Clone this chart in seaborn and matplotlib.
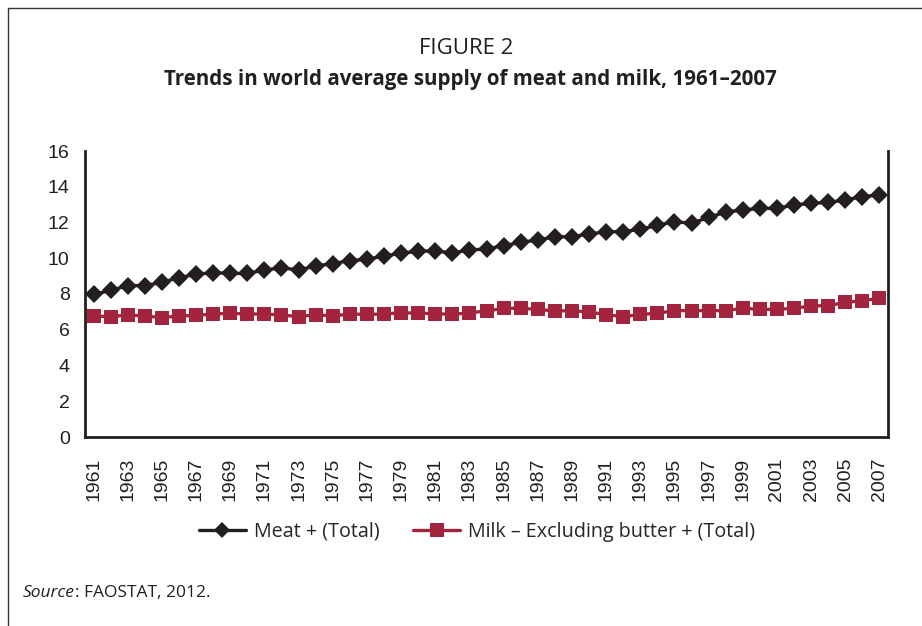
import numpy as np
import pandas as pd
import matplotlib
matplotlib.use("Agg")
import matplotlib.pyplot as plt
from matplotlib.lines import Line2D
import seaborn as sns

years = list(range(1961, 2008))
meat = [7.98, 8.20, 8.47, 8.47, 8.65, 8.92, 9.10, 9.20, 9.15, 9.15,
        9.34, 9.47, 9.34, 9.57, 9.70, 9.87, 9.94, 10.13, 10.27, 10.40,
        10.40, 10.30, 10.46, 10.52, 10.70, 10.89, 11.02, 11.20, 11.20, 11.36,
        11.48, 11.49, 11.62, 11.84, 12.05, 11.95, 12.29, 12.58, 12.70, 12.79,
        12.79, 12.98, 13.07, 13.12, 13.26, 13.45, 13.54]
milk = [6.77, 6.73, 6.83, 6.77, 6.68, 6.77, 6.80, 6.88, 6.92, 6.88,
        6.88, 6.83, 6.73, 6.85, 6.77, 6.88, 6.86, 6.88, 6.95, 6.93,
        6.90, 6.86, 6.95, 7.05, 7.20, 7.20, 7.14, 7.05, 7.07, 6.99,
        6.85, 6.73, 6.86, 6.92, 7.07, 7.07, 7.07, 7.07, 7.20, 7.14,
        7.14, 7.20, 7.33, 7.35, 7.53, 7.63, 7.76]
series_names = ["Meat + (Total)", "Milk \u2013 Excluding butter + (Total)"]
y_ticks = [0, 2, 4, 6, 8, 10, 12, 14, 16]

sns.set_style("white")
plt.rcParams['font.family'] = ['Open Sans', 'DejaVu Sans']

fig = plt.figure(figsize=(9.22, 6.26), dpi=100)
ax = fig.add_axes([85/922, 1-437/626, (888-85)/922, (437-151)/626])

meat_color = "#231f20"
milk_color = "#a3243f"
tick_font = ['Liberation Sans', 'DejaVu Sans']

sns.lineplot(x=years, y=meat, ax=ax, color=meat_color, lw=2.4, marker="D",
             markersize=9.5, markeredgewidth=0, label=series_names[0], legend=False)
sns.lineplot(x=years, y=milk, ax=ax, color=milk_color, lw=2.4, marker="s",
             markersize=10, markeredgewidth=0, label=series_names[1], legend=False)

ax.set_xlim(1960.5, 2007.5)
ax.set_ylim(0, 16)
ax.set_yticks(y_ticks)
ax.set_yticklabels([str(t) for t in y_ticks], fontsize=14, family=tick_font, color='#231f20')
ax.tick_params(axis='y', direction='out', length=6, width=1.2, color='#231f20', pad=5)

ax.set_xticks(years[::2])
ax.set_xticklabels([str(y) for y in years[::2]], rotation=90, fontsize=14, family=tick_font,
                   color='#231f20')
ax.set_xticks([y - 0.5 for y in years] + [2007.5], minor=True)
ax.tick_params(axis='x', which='major', length=0, pad=15)
ax.tick_params(axis='x', which='minor', direction='out', length=6, width=1.2, color='#231f20')

for side in ['left', 'bottom', 'right']:
    ax.spines[side].set_color('#231f20')
    ax.spines[side].set_linewidth(2)
ax.spines['top'].set_visible(False)
ax.set_xlabel("")
ax.set_ylabel("")

fig.text(466/922, 1-48/626, "FIGURE 2", ha='center', va='center', fontsize=16, color='#231f20')
fig.text(470/922, 1-80/626, "Trends in world average supply of meat and milk, 1961\u20132007",
         ha='center', va='center', fontsize=14.8, fontweight='bold', color='#231f20')

handles = [Line2D([], [], color=meat_color, lw=2.4, marker='D', markersize=8, markeredgewidth=0),
           Line2D([], [], color=milk_color, lw=2.4, marker='s', markersize=9.5, markeredgewidth=0)]
fig.legend(handles, series_names, loc='center', bbox_to_anchor=(477/922, 1-532/626), ncol=2,
           frameon=False, fontsize=14.2, handlelength=2.4, columnspacing=1.7, handletextpad=0.4)

src = fig.text(23/922, 1-593/626, "Source", ha='left', va='center', fontsize=12.5,
               style='italic', color='#231f20')
fig.canvas.draw()
bb = src.get_window_extent()
fig.text(bb.x1/922, 1-593/626, ": FAOSTAT, 2012.", ha='left', va='center', fontsize=12.5, color='#231f20')

fig.add_artist(Line2D([8/922, 1], [1-8/626, 1-8/626], transform=fig.transFigure, color='#333333', lw=1))
fig.add_artist(Line2D([8/922, 8/922], [0, 1-8/626], transform=fig.transFigure, color='#333333', lw=1))

fig.savefig("out.png", dpi=100)
